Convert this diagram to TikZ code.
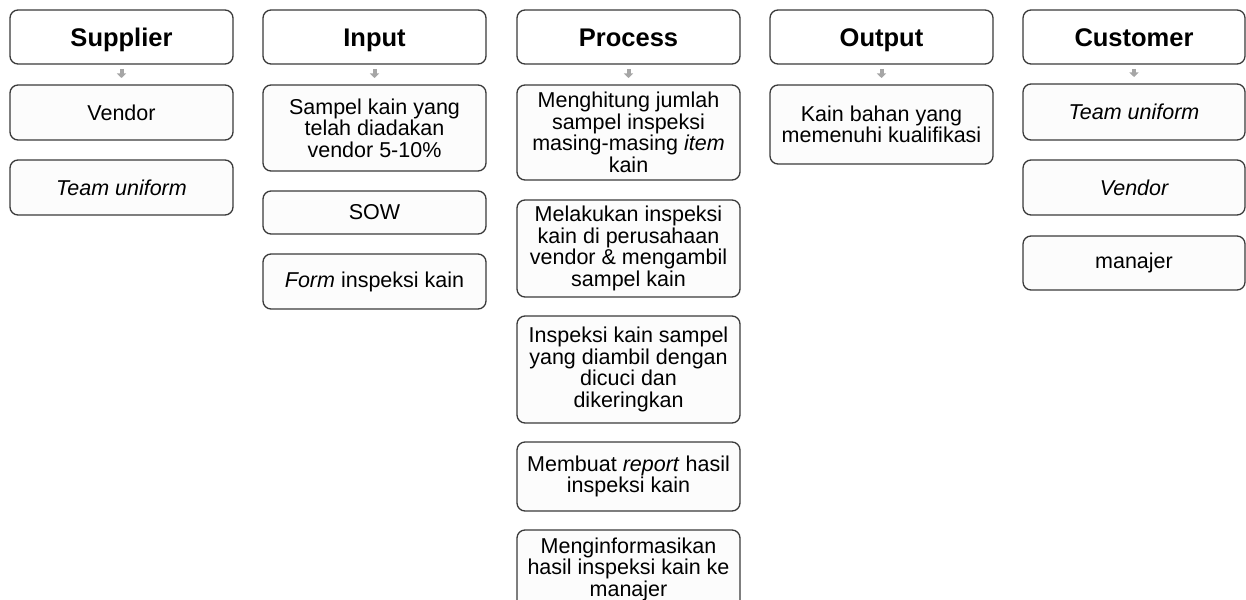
\documentclass[tikz,border=0pt]{standalone}
\usepackage{fontspec}
\setmainfont{Liberation Sans}
\usetikzlibrary{arrows.meta}
\definecolor{edge}{HTML}{3A3A3A}
\definecolor{arrowgrey}{HTML}{A6A6A6}
\definecolor{boxfill}{HTML}{FCFCFC}
\tikzset{
  head/.style={draw=edge, line width=1.3pt, rounded corners=8pt, fill=white,
    minimum width=223pt, minimum height=54pt, inner sep=0pt, outer sep=0pt,
    text height=18.3pt, text depth=0pt,
    font=\fontsize{25.5}{26}\selectfont\bfseries},
  item/.style={draw=edge, line width=1.3pt, rounded corners=8pt, fill=boxfill,
    minimum width=223pt, inner sep=0pt, outer sep=0pt, align=center,
    font=\fontsize{21.5}{21.5}\selectfont},
  flow/.style={draw=arrowgrey, line width=4pt, -{Triangle[width=9pt,length=4.5pt]},
    shorten <=5pt, shorten >=7pt}
}
\begin{document}
\begin{tikzpicture}[x=1pt,y=-1pt]
\useasboundingbox (0,0) rectangle (1246,599);
% headers
\node[head] (hs) at (121.5,37) {Supplier};
\node[head] (hi) at (374.5,37) {Input};
\node[head] (hp) at (628.5,37) {Process};
\node[head] (ho) at (881.5,37) {Output};
\node[head, minimum width=222pt] (hc) at (1134,37) {Customer};
% supplier
\node[item, minimum height=55pt] (s1) at (121.5,112.5) {Vendor};
\node[item, minimum height=55pt] (s2) at (121.5,187.5) {\itshape Team uniform};
% input
\node[item, minimum height=86pt] (i1) at (374.5,128) {Sampel kain yang\\telah diadakan\\vendor 5-10\%};
\node[item, minimum height=43pt] (i2) at (374.5,212.5) {SOW};
\node[item, minimum height=55pt] (i3) at (374.5,281.5) {\textit{Form} inspeksi kain};
% process
\node[item, minimum height=95pt] (p1) at (628.5,132.5) {Menghitung jumlah\\sampel inspeksi\\masing-masing \textit{item}\\kain};
\node[item, minimum height=97pt] (p2) at (628.5,248.5) {Melakukan inspeksi\\kain di perusahaan\\vendor \& mengambil\\sampel kain};
\node[item, minimum height=107pt] (p3) at (628.5,369.5) {Inspeksi kain sampel\\yang diambil dengan\\dicuci dan\\dikeringkan};
\node[item, minimum height=69pt] (p4) at (628.5,476.5) {Membuat \textit{report} hasil\\inspeksi kain};
\node[item, minimum height=78pt] (p5) at (628.5,569) {Menginformasikan\\hasil inspeksi kain ke\\manajer};
% output
\node[item, minimum height=79pt] (o1) at (881.5,124.5) {Kain bahan yang\\memenuhi kualifikasi};
% customer
\node[item, minimum height=56pt, minimum width=222pt] (c1) at (1134,112) {\itshape Team uniform};
\node[item, minimum height=55pt, minimum width=222pt] (c2) at (1134,187.5) {\itshape Vendor};
\node[item, minimum height=54pt, minimum width=222pt] (c3) at (1134,263) {manajer};
% arrows
\draw[flow] (hs) -- (s1);
\draw[flow] (hi) -- (i1);
\draw[flow] (hp) -- (p1);
\draw[flow] (ho) -- (o1);
\draw[flow] (hc) -- (c1);
\end{tikzpicture}
\end{document}
